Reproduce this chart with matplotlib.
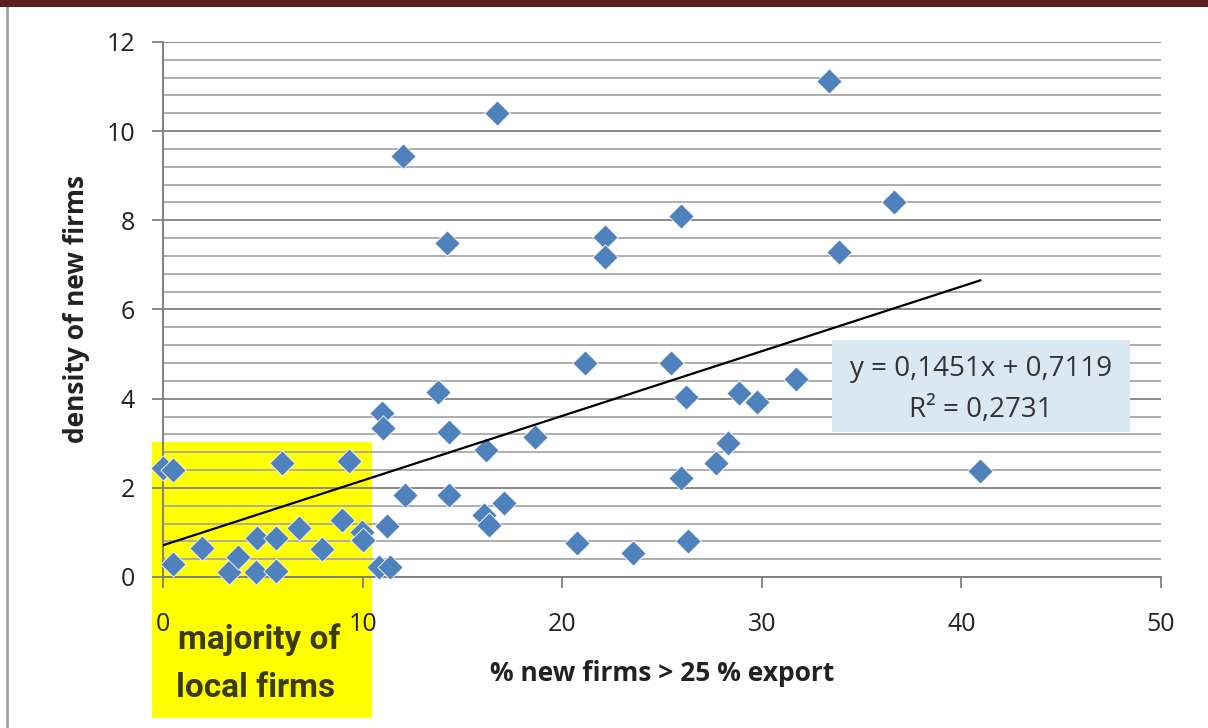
import numpy as np
import matplotlib.pyplot as plt
from matplotlib.patches import Rectangle
from matplotlib.lines import Line2D

# % new firms > 25 % export
x_vals = [0.0, 0.5, 0.5, 1.95, 3.3, 3.75, 4.7, 4.65, 5.65, 5.65, 5.95, 6.8, 7.95,
          8.95, 9.3, 9.95, 10.0, 11.2, 10.8, 11.35, 10.95, 11.0, 12.1, 13.8, 14.35,
          14.35, 16.2, 16.1, 16.35, 17.1, 18.65, 20.75, 21.15, 22.15, 22.15, 23.55,
          25.45, 25.95, 25.95, 26.2, 26.3, 27.7, 28.3, 28.85, 29.75, 31.7, 33.35,
          33.85, 36.6, 40.95, 16.75, 12.0, 14.25]
# density of new firms
y_vals = [2.44, 2.4, 0.29, 0.65, 0.11, 0.45, 0.87, 0.11, 0.87, 0.13, 2.55, 1.1, 0.63,
          1.28, 2.6, 1.0, 0.83, 1.15, 0.23, 0.23, 3.67, 3.34, 1.84, 4.15, 3.25,
          1.84, 2.85, 1.4, 1.17, 1.65, 3.14, 0.76, 4.8, 7.63, 7.18, 0.53,
          4.8, 8.1, 2.22, 4.03, 0.81, 2.55, 3.0, 4.12, 3.93, 4.43, 11.12,
          7.29, 8.41, 2.38, 10.4, 9.44, 7.5]

slope = 0.1451
intercept = 0.7119
eq_text = "y = 0,1451x + 0,7119"
r2_text = "R² = 0,2731"

x_ticks = [0, 10, 20, 30, 40, 50]
y_ticks = [0, 2, 4, 6, 8, 10, 12]

plt.rcParams['font.family'] = ['Open Sans', 'DejaVu Sans']

fig = plt.figure(figsize=(12.08, 7.28), dpi=100)
fig.patch.set_facecolor('white')

# frame of the slide
fig.patches.append(Rectangle((0, 1 - 7 / 728), 1, 7 / 728, transform=fig.transFigure,
                             facecolor='#5e1f1f', edgecolor='none', zorder=5))
fig.lines.append(Line2D([7 / 1208, 7 / 1208], [0, 1 - 7 / 728], transform=fig.transFigure,
                        color='#a0a0a0', lw=2, zorder=5))

# yellow highlight box (behind the axes)
fig.patches.append(Rectangle((152 / 1208, 1 - 718 / 728), 220 / 1208, 276 / 728,
                             transform=fig.transFigure, facecolor='#ffff00',
                             edgecolor='none', zorder=-1))

ax = fig.add_axes([163 / 1208, 1 - 577 / 728, 998 / 1208, 535 / 728])
ax.set_facecolor('none')

ax.set_xlim(0, 50)
ax.set_ylim(0, 12)
ax.set_xticks(x_ticks)
ax.set_yticks(y_ticks)
ax.set_yticks(np.arange(0, 12.01, 0.4), minor=True)

ax.grid(which='major', axis='y', color='#8a8a8a', lw=1.4)
ax.grid(which='minor', axis='y', color='#a8a8a8', lw=1.3)
ax.set_axisbelow(True)

for s in ['top', 'right']:
    ax.spines[s].set_visible(False)
for s in ['left', 'bottom']:
    ax.spines[s].set_color('#808080')
    ax.spines[s].set_linewidth(1.4)

ax.tick_params(axis='x', which='major', direction='out', length=8, width=1.3,
               color='#808080', pad=17, labelsize=18, labelcolor='#222222')
ax.tick_params(axis='y', which='major', direction='out', length=8, width=1.3,
               color='#808080', pad=12, labelsize=18, labelcolor='#222222')
ax.tick_params(axis='y', which='minor', length=0)

ax.scatter(x_vals, y_vals, marker='D', s=165, color='#4f81bd', edgecolors='white',
           linewidths=0.6, zorder=3, clip_on=False)

xf = np.array([0, max(x_vals)])
ax.plot(xf, slope * xf + intercept, color='black', lw=1.6, zorder=4)

ax.set_xlabel('% new firms > 25 % export', fontsize=19, fontweight='bold',
              color='#222222', labelpad=17)
ax.set_ylabel('density of new firms', fontsize=19, fontweight='bold',
              color='#222222', labelpad=12)

# equation box
fig.patches.append(Rectangle((832 / 1208, 1 - 432 / 728), 298 / 1208, 92 / 728,
                             transform=fig.transFigure, facecolor='#dae9f1',
                             edgecolor='none', zorder=2))
fig.text(981 / 1208, 1 - 369 / 728, eq_text, ha='center', va='center',
         fontsize=20, color='#333333', zorder=3)
fig.text(981 / 1208, 1 - 410 / 728, r2_text, ha='center', va='center',
         fontsize=20, color='#333333', zorder=3)

fig.text(178 / 1208, 1 - 640 / 728, 'majority of', ha='left', va='center',
         fontsize=24, fontweight='bold', color='#3b3b12',
         family=['Roboto', 'DejaVu Sans'])
fig.text(176 / 1208, 1 - 688 / 728, 'local firms', ha='left', va='center',
         fontsize=24, fontweight='bold', color='#3b3b12',
         family=['Roboto', 'DejaVu Sans'])

fig.savefig('out.png', dpi=100)
